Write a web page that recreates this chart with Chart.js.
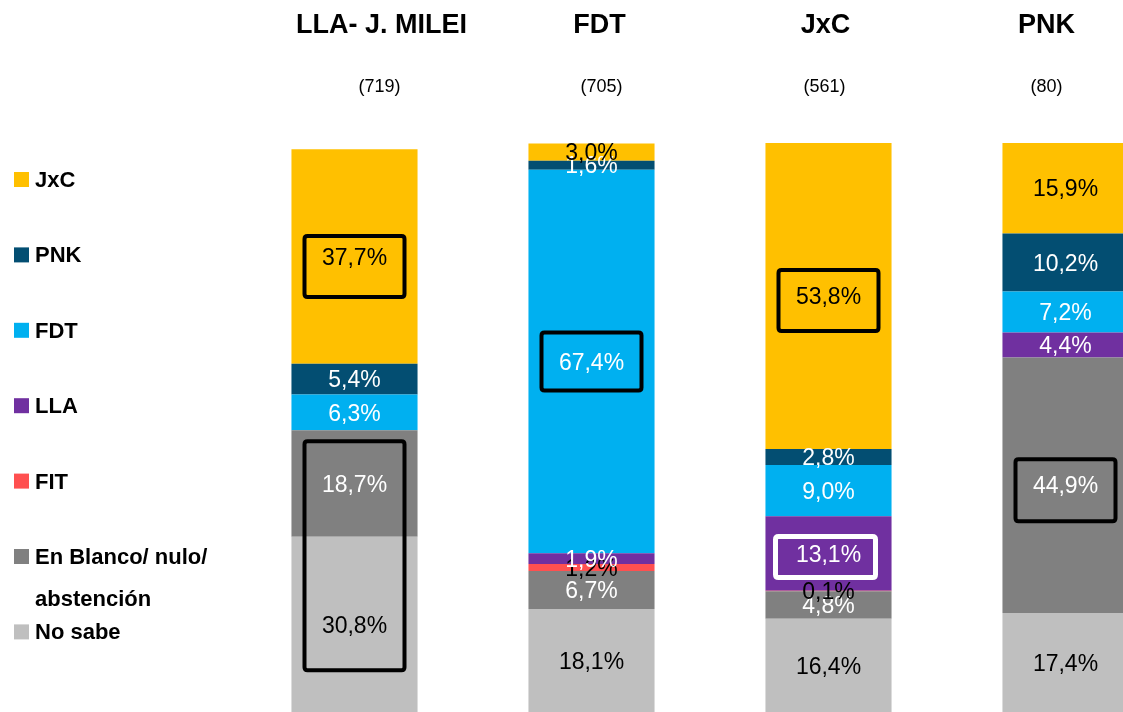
<!DOCTYPE html>
<html>
<head>
<meta charset="utf-8">
<script src="https://cdn.jsdelivr.net/npm/chart.js@4"></script>
<style>
    body {
        margin: 0;
        background: #fff;
    }
    #wrap {
        position: relative;
        width: 1123px;
        height: 712px;
        overflow: hidden;
    }
    canvas {
        display: block;
    }
</style>
</head>
<body>
<div id="wrap">
    <canvas id="stackChart" width="1184" height="712"></canvas>
</div>
<script>
// categorias y tamaños de muestra
let categories = ["LLA- J. MILEI", "FDT", "JxC", "PNK"]
let counts = ["(719)", "(705)", "(561)", "(80)"]

// series (de abajo hacia arriba)
let seriesNames = ["No sabe", "En Blanco/ nulo/ abstención", "FIT", "LLA", "FDT", "PNK", "JxC"]
let noSabe = [30.8, 18.1, 16.4, 17.4]
let enBlanco = [18.7, 6.7, 4.8, 44.9]
let fit = [null, 1.2, 0.1, null]
let lla = [null, 1.9, 13.1, 4.4]
let fdt = [6.3, 67.4, 9.0, 7.2]
let pnk = [5.4, 1.6, 2.8, 10.2]
let jxc = [37.7, 3.0, 53.8, 15.9]

let seriesValues = [noSabe, enBlanco, fit, lla, fdt, pnk, jxc]
let colors = ["#BFBFBF", "#808080", "#FF5050", "#7030A0", "#00B0F0", "#034E72", "#FFC000"]
let labelColors = ["#000", "#fff", "#000", "#fff", "#fff", "#fff", "#000"]

// recuadros destacados: categoria, datasets desde/hasta
let boxes = [
    { cat: 0, from: 6, to: 6, h: 61, dy: 10, color: "#000", lw: 4 },
    { cat: 0, from: 0, to: 1, h: 229, dy: -15.5, color: "#000", lw: 4 },
    { cat: 1, from: 4, to: 4, h: 58, dy: 0, color: "#000", lw: 4 },
    { cat: 2, from: 6, to: 6, h: 61, dy: 4.5, color: "#000", lw: 4 },
    { cat: 2, from: 3, to: 3, h: 41, dy: 3.5, dx: -3, color: "#fff", lw: 5 },
    { cat: 3, from: 1, to: 1, h: 62, dy: 5, color: "#000", lw: 4 },
]

const FONT = '"Liberation Sans", Arial, sans-serif'

function fmt(v) {
    return v.toFixed(1).replace(".", ",") + "%"
}

function roundRect(ctx, x, y, w, h, r) {
    ctx.beginPath()
    ctx.moveTo(x + r, y)
    ctx.lineTo(x + w - r, y)
    ctx.quadraticCurveTo(x + w, y, x + w, y + r)
    ctx.lineTo(x + w, y + h - r)
    ctx.quadraticCurveTo(x + w, y + h, x + w - r, y + h)
    ctx.lineTo(x + r, y + h)
    ctx.quadraticCurveTo(x, y + h, x, y + h - r)
    ctx.lineTo(x, y + r)
    ctx.quadraticCurveTo(x, y, x + r, y)
    ctx.closePath()
}

// etiquetas dentro de las barras + recuadros
const labelsPlugin = {
    id: "segLabels",
    afterDatasetsDraw(chart) {
        let ctx = chart.ctx
        ctx.save()
        ctx.font = "23px " + FONT
        ctx.textAlign = "center"
        ctx.textBaseline = "alphabetic"
        chart.data.datasets.forEach((ds, di) => {
            let meta = chart.getDatasetMeta(di)
            meta.data.forEach((bar, i) => {
                let v = ds.data[i]
                if (v == null) return
                let cy = (bar.y + bar.base) / 2
                ctx.fillStyle = labelColors[di]
                ctx.fillText(fmt(v), bar.x, cy + 8.2)
            })
        })

        boxes.forEach(b => {
            let top = chart.getDatasetMeta(b.to).data[b.cat]
            let bottom = chart.getDatasetMeta(b.from).data[b.cat]
            let cy = (top.y + bottom.base) / 2 + b.dy
            let cx = top.x + (b.dx || 0)
            ctx.strokeStyle = b.color
            ctx.lineWidth = b.lw
            roundRect(ctx, cx - 50, cy - b.h / 2, 100, b.h, 3)
            ctx.stroke()
        })
        ctx.restore()
    },
    afterDraw(chart) {
        let ctx = chart.ctx
        let x = chart.scales.x
        let titleShift = [27, 8, -3, -19]
        let countShift = [25, 10, -4, -19]
        ctx.save()
        ctx.fillStyle = "#000"
        ctx.textAlign = "center"
        ctx.textBaseline = "alphabetic"
        categories.forEach((c, i) => {
            let px = x.getPixelForValue(i)
            ctx.font = "bold 27px " + FONT
            ctx.fillText(c, px + titleShift[i], 33)
            ctx.font = "18px " + FONT
            ctx.fillText(counts[i], px + countShift[i], 92)
        })

        // leyenda (de arriba hacia abajo)
        ctx.textAlign = "left"
        ctx.font = "bold 22px " + FONT
        for (let k = 0; k < seriesNames.length; k++) {
            let di = seriesNames.length - 1 - k
            let y = 187 + k * 75.4
            ctx.fillStyle = colors[di]
            ctx.fillRect(14, y - 15, 15, 15)
            ctx.fillStyle = "#000"
            let name = seriesNames[di]
            if (name.indexOf("abstención") >= 0) {
                ctx.fillText("En Blanco/ nulo/", 35, y)
                ctx.fillText("abstención", 35, y + 42)
            } else {
                ctx.fillText(name, 35, y)
            }
        }
        ctx.restore()
    }
}

let ctx = document.getElementById("stackChart").getContext("2d")
let chart = new Chart(ctx, {
    type: "bar",
    data: {
        labels: categories,
        datasets: seriesNames.map((n, i) => ({
            label: n,
            data: seriesValues[i],
            backgroundColor: colors[i],
            borderWidth: 0,
            categoryPercentage: 1,
            barPercentage: 0.532
        }))
    },
    options: {
        responsive: false,
        animation: false,
        devicePixelRatio: 1,
        layout: {
            padding: { left: 236, right: 0, top: 143, bottom: 0 }
        },
        plugins: {
            legend: { display: false },
            tooltip: { enabled: false }
        },
        scales: {
            x: { stacked: true, display: false },
            y: { stacked: true, display: false, min: 0, max: 100 }
        }
    },
    plugins: [labelsPlugin]
})
</script>
</body>
</html>
